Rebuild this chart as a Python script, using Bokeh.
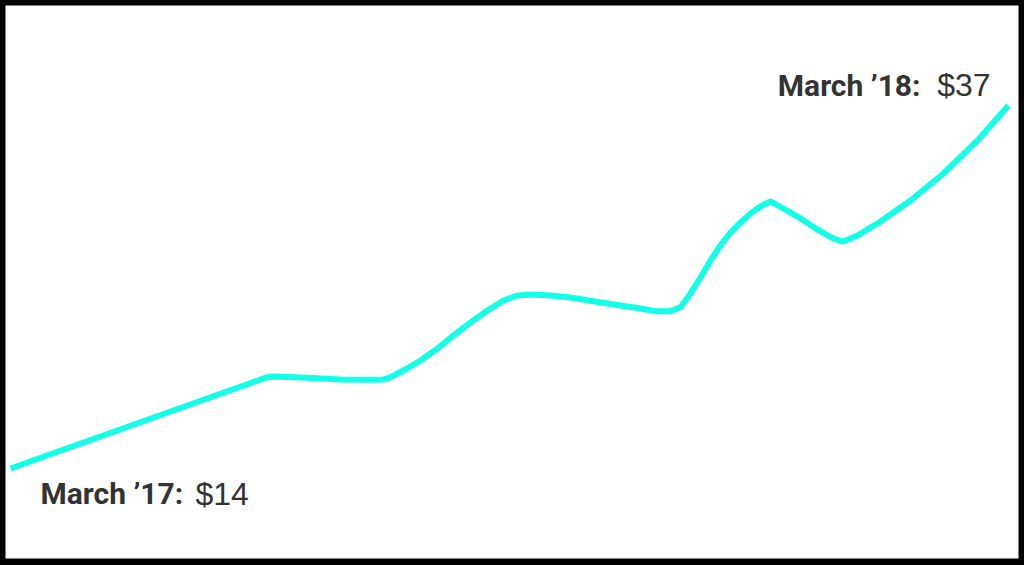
from bokeh.plotting import figure
from bokeh.models import ColumnDataSource, Range1d
from bokeh.core.properties import value
from bokeh.embed import file_html
from bokeh.resources import INLINE

# Months since March 2017, and share price in dollars
months = [0.000, 3.078, 3.162, 3.571, 3.968, 4.329, 4.485, 4.569, 4.725, 4.930,
          5.134, 5.327, 5.531, 5.735, 5.928, 6.096, 6.253, 6.493, 6.733, 7.178,
          7.575, 7.755, 7.936, 8.056, 8.176, 8.297, 8.417, 8.537, 8.657, 8.778,
          8.898, 9.018, 9.138, 9.295, 9.499, 9.703, 9.896, 10.016, 10.184, 10.341,
          10.425, 10.822, 11.218, 11.627, 12.000]
price = [14.00, 19.77, 19.83, 19.75, 19.64, 19.62, 19.64, 19.78, 20.21, 20.84,
         21.60, 22.43, 23.25, 24.01, 24.64, 24.96, 25.02, 24.96, 24.83, 24.45,
         24.14, 23.97, 23.97, 24.22, 25.09, 26.10, 27.18, 28.13, 28.95, 29.59,
         30.16, 30.60, 30.92, 30.47, 29.84, 29.14, 28.57, 28.38, 28.76, 29.27,
         29.52, 30.98, 32.69, 34.78, 37.00]

start_label = "March \u201917:"
start_value = "$14"
end_label = "March \u201918:"
end_value = "$37"

LINE = "#14FFE8"
TEXT = "#333333"
BOLD_FONT = value("Roboto")
REG_FONT = value("Liberation Sans")

p = figure(width=1024, height=565, output_backend="svg", toolbar_location=None,
           x_axis_type=None, y_axis_type=None,
           x_range=Range1d(-0.060, 12.12), y_range=Range1d(8.30, 43.33))
p.min_border = 0
p.min_border_left = 5
p.min_border_right = 6
p.min_border_top = 5
p.min_border_bottom = 7
p.border_fill_color = "#000000"
p.background_fill_color = "#ffffff"
p.outline_line_color = None
p.grid.visible = False

src = ColumnDataSource(dict(x=months, y=price))
p.line("x", "y", source=src, line_color=LINE, line_width=6,
       line_join="round", line_cap="butt")

x0, y0 = months[0], price[0]
x1, y1 = months[-1], price[-1]

p.text(x=[x0], y=[y0], text=[start_label], x_offset=30, y_offset=25,
       text_font=BOLD_FONT, text_font_style="bold",
       text_font_size="30px", text_color=TEXT, text_align="left",
       text_baseline="alphabetic")
p.text(x=[x0], y=[y0], text=[start_value], x_offset=185, y_offset=25,
       text_font=REG_FONT, text_font_size="32px",
       text_color=TEXT, text_align="left", text_baseline="alphabetic")

p.text(x=[x1], y=[y1], text=[end_label], x_offset=-88, y_offset=-20,
       text_font=BOLD_FONT, text_font_style="bold",
       text_font_size="30px", text_color=TEXT, text_align="right",
       text_baseline="alphabetic")
p.text(x=[x1], y=[y1], text=[end_value], x_offset=-18, y_offset=-20,
       text_font=REG_FONT, text_font_size="32px",
       text_color=TEXT, text_align="right", text_baseline="alphabetic")

html = file_html(p, INLINE)
html = html.replace("<head>", "<head><style>html,body{margin:0;padding:0;background:#000;overflow:hidden}</style>", 1)
open("out.html", "w").write(html)
